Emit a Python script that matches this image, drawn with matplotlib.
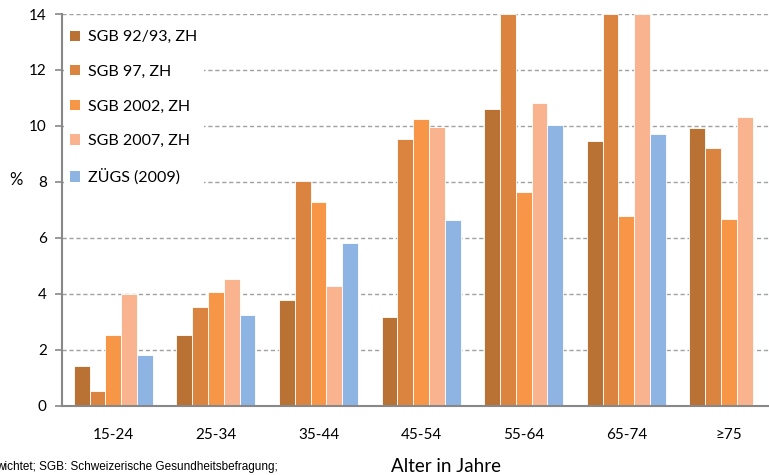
import matplotlib

matplotlib.use("Agg")
import matplotlib.pyplot as plt
import numpy as np
from matplotlib.patches import Patch

plt.rcParams["font.family"] = ["Lato", "DejaVu Sans"]

age_groups = ["15-24", "25-34", "35-44", "45-54", "55-64", "65-74", "≥75"]
series_names = ["SGB 92/93, ZH", "SGB 97, ZH", "SGB 2002, ZH", "SGB 2007, ZH", "ZÜGS (2009)"]
sgb_9293 = [1.40, 2.52, 3.77, 3.15, 10.59, 9.47, 9.92]
sgb_97 = [0.51, 3.54, 8.02, 9.52, 14.0, 14.0, 9.20]
sgb_2002 = [2.52, 4.06, 7.26, 10.23, 7.62, 6.79, 6.68]
sgb_2007 = [4.00, 4.51, 4.28, 9.95, 10.80, 14.0, 10.33]
zuegs_2009 = [1.80, 3.23, 5.81, 6.64, 10.04, 9.72, np.nan]

colors = ["#B97234", "#DB843F", "#F79646", "#F9B48F", "#8EB4E3"]
series = [sgb_9293, sgb_97, sgb_2002, sgb_2007, zuegs_2009]

W, H = 769, 475
fig = plt.figure(figsize=(W / 100, H / 100), dpi=100)
left, bottom_px, top_px = 62, 405.5, 14
cat_w = 102.6
ax = fig.add_axes([left / W, (H - bottom_px) / H, 7 * cat_w / W, (bottom_px - top_px) / H])

x = np.arange(len(age_groups))
bw = 0.154
for i, (vals, col) in enumerate(zip(series, colors)):
    ax.bar(x + (i - 2) * bw, vals, width=bw, color=col, edgecolor="white", linewidth=0.6, zorder=2)

ax.set_xlim(-0.5, 6.5)
ax.set_ylim(0, 14)
ax.set_yticks(range(0, 15, 2))
ax.set_xticks(x)
ax.set_xticklabels(age_groups)
ax.yaxis.grid(True, linestyle=(0, (3, 2)), color="#A0A0A0", linewidth=1.0, zorder=0)
ax.set_axisbelow(True)
for s in ["top", "right"]:
    ax.spines[s].set_visible(False)
for s in ["left", "bottom"]:
    ax.spines[s].set_color("#888888")
    ax.spines[s].set_linewidth(1.5)
ax.tick_params(axis="y", length=5, width=1.2, color="#888888", labelsize=11, pad=6)
ax.tick_params(axis="x", length=0, labelsize=11, pad=16)

handles = [Patch(facecolor=c, edgecolor="none") for c in colors]
leg = ax.legend(handles, series_names, loc="upper left",
                bbox_to_anchor=(64 / W, (H - 24) / H), bbox_transform=fig.transFigure,
                frameon=True, fontsize=11.5, handlelength=0.6, handleheight=0.6,
                handletextpad=0.5, labelspacing=1.29, borderpad=0.4, borderaxespad=0)
leg.get_frame().set_facecolor("white")
leg.get_frame().set_edgecolor("none")
leg.get_frame().set_alpha(1.0)
leg.set_zorder(5)

fig.text(16 / W, 1 - 180 / H, "%", fontsize=12, ha="center", va="center")
fig.text(446 / W, 1 - 466 / H, "Alter in Jahre", fontsize=13.5, ha="center", va="center")
fig.text(-4 / W, 1 - 467 / H, "wichtet; SGB: Schweizerische Gesundheitsbefragung;",
         fontsize=8.5, ha="left", va="center", family=["Liberation Sans", "DejaVu Sans"])

fig.savefig("out.png", dpi=100)
